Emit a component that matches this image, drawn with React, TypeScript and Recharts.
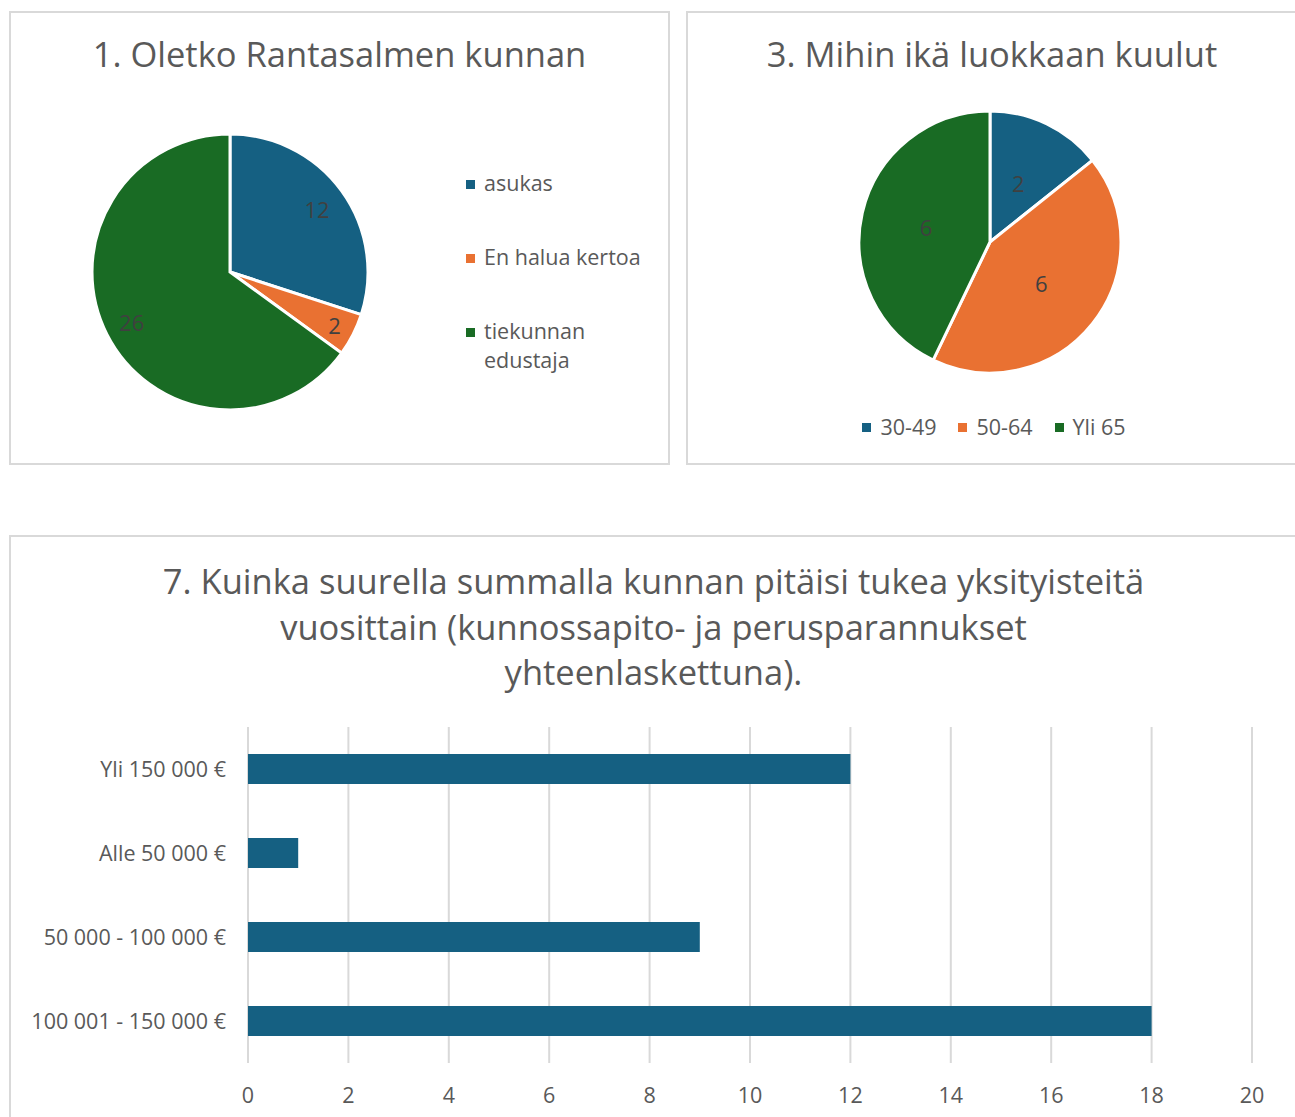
import { PieChart, Pie, Cell, Legend, BarChart, Bar, XAxis, YAxis, CartesianGrid } from "recharts";

const FONT = "'Open Sans', sans-serif";
const TITLE_COLOR = "#595959";
const LABEL_COLOR = "#404040";
const BLUE = "#156082";
const ORANGE = "#E97132";
const GREEN = "#196B24";

// 1. Oletko Rantasalmen kunnan
const residentNames = ["asukas", "En halua kertoa", "tiekunnan edustaja"];
const residentValues = [12, 2, 26];

// 3. Mihin ikä luokkaan kuulut
const ageNames = ["30-49", "50-64", "Yli 65"];
const ageValues = [2, 6, 6];

// 7. tuen suuruus
const supportCategories = ["Yli 150 000 €", "Alle 50 000 €", "50 000 - 100 000 €", "100 001 - 150 000 €"];
const supportValues = [12, 1, 9, 18];
const supportTicks = [0, 2, 4, 6, 8, 10, 12, 14, 16, 18, 20];

const pieColors = [BLUE, ORANGE, GREEN];
const RAD = Math.PI / 180;

const residentData = residentNames.map((name, i) => ({ name, value: residentValues[i] }));
const ageData = ageNames.map((name, i) => ({ name, value: ageValues[i] }));
const supportData = supportCategories.map((name, i) => ({ name, value: supportValues[i] }));

const panel = (left: number, top: number, width: number, height: number): React.CSSProperties => ({
  position: "absolute",
  left,
  top,
  width,
  height,
  boxSizing: "border-box",
  border: "2px solid #d9d9d9",
  background: "#fff",
});

// label distance from centre, as share of the radius (per slice)
function makeLabel(ratios: number[]) {
  return (props: any) => {
    const { cx, cy, midAngle, outerRadius, value, index } = props;
    const r = outerRadius * ratios[index % ratios.length];
    const x = cx + r * Math.cos(-midAngle * RAD);
    const y = cy + r * Math.sin(-midAngle * RAD);
    return (
      <text x={x} y={y} fill={LABEL_COLOR} fontSize={22} fontFamily={FONT} textAnchor="middle" dominantBaseline="central">
        {value}
      </text>
    );
  };
}

function Swatch({ color, top = 0 }: { color: string; top?: number }) {
  return <div style={{ width: 9, height: 9, background: color, marginRight: 9, marginTop: top, flex: "none" }} />;
}

function VerticalLegend() {
  return (
    <div style={{ fontFamily: FONT, fontSize: 21.5, color: TITLE_COLOR }}>
      {residentNames.map((n, i) => (
        <div key={n} style={{ display: "flex", alignItems: "flex-start", height: 74 }}>
          <Swatch color={pieColors[i]} top={12} />
          <div style={{ width: 175, lineHeight: "29px" }}>{n}</div>
        </div>
      ))}
    </div>
  );
}

function HorizontalLegend() {
  return (
    <div style={{ fontFamily: FONT, fontSize: 21.5, color: TITLE_COLOR, display: "flex", justifyContent: "center" }}>
      {ageNames.map((n, i) => (
        <div key={n} style={{ display: "flex", alignItems: "center", marginRight: i < 2 ? 22 : 0, lineHeight: "29px" }}>
          <Swatch color={pieColors[i]} top={2} />
          {n}
        </div>
      ))}
    </div>
  );
}

const titleStyle: React.CSSProperties = {
  position: "absolute",
  left: 0,
  right: 0,
  textAlign: "center",
  fontFamily: FONT,
  fontSize: 34.5,
  color: TITLE_COLOR,
  lineHeight: "45.5px",
  whiteSpace: "nowrap",
};

export default function App() {
  return (
    <div style={{ position: "absolute", left: 0, top: 0, width: 1295, height: 1117, background: "#fff", overflow: "hidden" }}>
      <div style={panel(9, 11, 661, 454)}>
        <div style={{ ...titleStyle, top: 18 }}>1. Oletko Rantasalmen kunnan</div>
        <div style={{ position: "absolute", left: -2, top: -2 }}>
          <PieChart width={661} height={454} margin={{ top: 0, right: 0, bottom: 0, left: 0 }}>
            <Pie
              data={residentData}
              dataKey="value"
              nameKey="name"
              cx={221}
              cy={261}
              outerRadius={138}
              startAngle={90}
              endAngle={-270}
              stroke="#fff"
              strokeWidth={3}
              label={makeLabel([0.78, 0.85, 0.8])}
              labelLine={false}
              isAnimationActive={false}
            >
              {residentData.map((d, i) => (
                <Cell key={d.name} fill={pieColors[i]} />
              ))}
            </Pie>
            <Legend content={<VerticalLegend />} wrapperStyle={{ position: "absolute", left: 457, top: 157, width: 200 }} />
          </PieChart>
        </div>
      </div>

      <div style={panel(686, 11, 612, 454)}>
        <div style={{ ...titleStyle, top: 18 }}>3. Mihin ikä luokkaan kuulut</div>
        <div style={{ position: "absolute", left: -2, top: -2 }}>
          <PieChart width={612} height={454} margin={{ top: 0, right: 0, bottom: 0, left: 0 }}>
            <Pie
              data={ageData}
              dataKey="value"
              nameKey="name"
              cx={304}
              cy={231}
              outerRadius={131}
              startAngle={90}
              endAngle={-270}
              stroke="#fff"
              strokeWidth={3}
              label={makeLabel([0.5])}
              labelLine={false}
              isAnimationActive={false}
            >
              {ageData.map((d, i) => (
                <Cell key={d.name} fill={pieColors[i]} />
              ))}
            </Pie>
            <Legend content={<HorizontalLegend />} wrapperStyle={{ position: "absolute", left: 0, top: 401, width: 616 }} />
          </PieChart>
        </div>
      </div>

      <div style={panel(9, 535, 1289, 600)}>
        <div style={{ ...titleStyle, top: 21 }}>
          7. Kuinka suurella summalla kunnan pitäisi tukea yksityisteitä
          <br />
          vuosittain (kunnossapito- ja perusparannukset
          <br />
          yhteenlaskettuna).
        </div>
        <div style={{ position: "absolute", left: -2, top: -2 }}>
          <BarChart
            width={1286}
            height={582}
            data={supportData}
            layout="vertical"
            barCategoryGap={0}
            margin={{ top: 192, right: 43, bottom: 24, left: 0 }}
          >
            <CartesianGrid horizontal={false} vertical stroke="#d9d9d9" strokeWidth={2} />
            <XAxis
              type="number"
              domain={[0, 20]}
              ticks={supportTicks}
              axisLine={false}
              tickLine={false}
              tickMargin={19}
              tick={{ fill: TITLE_COLOR, fontSize: 21.5, fontFamily: FONT }}
              interval={0}
            />
            <YAxis
              type="category"
              dataKey="name"
              width={239}
              axisLine={false}
              tickLine={false}
              tickMargin={16}
              tick={{ fill: TITLE_COLOR, fontSize: 21.5, fontFamily: FONT }}
              interval={0}
            />
            <Bar dataKey="value" fill={BLUE} barSize={30} isAnimationActive={false} />
          </BarChart>
        </div>
      </div>
    </div>
  );
}
